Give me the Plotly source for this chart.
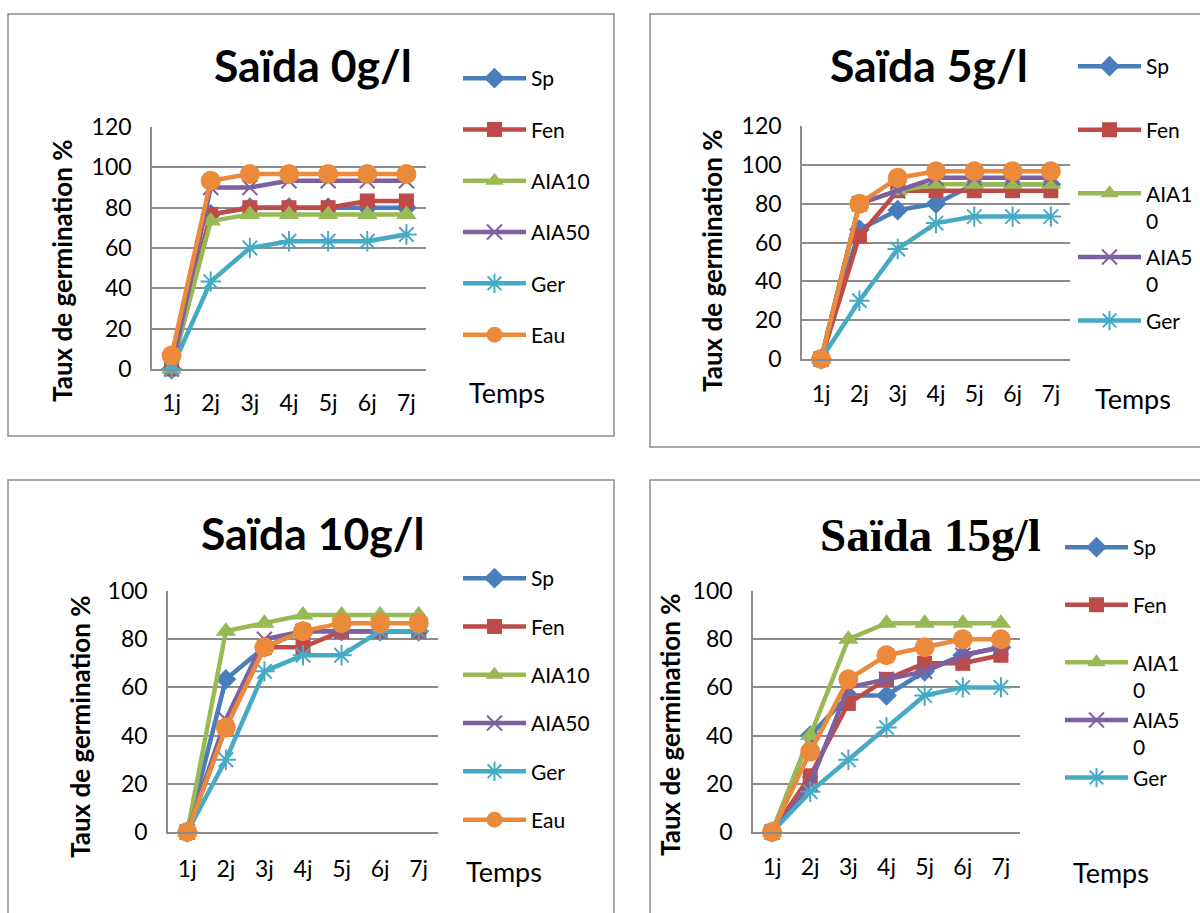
import plotly.graph_objects as go

W, H = 1200, 913

days = ["1j", "2j", "3j", "4j", "5j", "6j", "7j"]
series_names = ["Sp", "Fen", "AIA10", "AIA50", "Ger", "Eau"]

# Saïda 0 g/l
s0_sp = [0, 76.67, 80, 80, 80, 80, 80]
s0_fen = [0, 76.67, 80, 80, 80, 83.33, 83.33]
s0_aia10 = [0, 73.33, 76.67, 76.67, 76.67, 76.67, 76.67]
s0_aia50 = [0, 90, 90, 93.33, 93.33, 93.33, 93.33]
s0_ger = [0, 43.33, 60, 63.33, 63.33, 63.33, 66.67]
s0_eau = [6.67, 93.33, 96.67, 96.67, 96.67, 96.67, 96.67]

# Saïda 5 g/l
s5_sp = [0, 66.67, 76.67, 80, 90, 90, 90]
s5_fen = [0, 63.33, 86.67, 86.67, 86.67, 86.67, 86.67]
s5_aia10 = [0, 80, 86.67, 90, 90, 90, 90]
s5_aia50 = [0, 80, 86.67, 93.33, 93.33, 93.33, 93.33]
s5_ger = [0, 30, 56.67, 70, 73.33, 73.33, 73.33]
s5_eau = [0, 80, 93.33, 96.67, 96.67, 96.67, 96.67]

# Saïda 10 g/l
s10_sp = [0, 63.33, 76.67, 83.33, 83.33, 83.33, 83.33]
s10_fen = [0, 43.33, 76.67, 76.67, 83.33, 83.33, 83.33]
s10_aia10 = [0, 83.33, 86.67, 90, 90, 90, 90]
s10_aia50 = [0, 46.67, 80, 83.33, 83.33, 83.33, 83.33]
s10_ger = [0, 30, 66.67, 73.33, 73.33, 83.33, 83.33]
s10_eau = [0, 43.33, 76.67, 83.33, 86.67, 86.67, 86.67]

# Saïda 15 g/l
s15_sp = [0, 40, 56.67, 56.67, 66.67, 73.33, 76.67]
s15_fen = [0, 23.33, 53.33, 63.33, 70, 70, 73.33]
s15_aia10 = [0, 40, 80, 86.67, 86.67, 86.67, 86.67]
s15_aia50 = [0, 20, 60, 63.33, 66.67, 73.33, 76.67]
s15_ger = [0, 16.67, 30, 43.33, 56.67, 60, 60]
s15_eau = [0, 33.33, 63.33, 73.33, 76.67, 80, 80]

panel_titles = ["Saïda 0g/l", "Saïda 5g/l", "Saïda 10g/l", "Saïda 15g/l"]
y_ticks_a = [0, 20, 40, 60, 80, 100, 120]
y_ticks_b = [0, 20, 40, 60, 80, 100]
legend_full = ["Sp", "Fen", "AIA10", "AIA50", "Ger", "Eau"]
legend_wrapped = ["Sp<br>\u00a0", "Fen<br>\u00a0", "AIA1<br>0", "AIA5<br>0", "Ger<br>\u00a0", "Eau"]

colors = ["#4A7EBB", "#BE4B48", "#98B954", "#7D60A0", "#46AAC5", "#EC8A3C"]
symbols = ["diamond", "square", "triangle-up", "x-thin-open", "asterisk-open", "circle"]
msizes = [16, 15, 18, 15, 17, 20]

panels = [
    dict(data=[s0_sp, s0_fen, s0_aia10, s0_aia50, s0_ger, s0_eau], yt=y_ticks_a, ymax=120,
         px=(152, 426), py=(127, 369), labels=legend_full, show=[1, 1, 1, 1, 1, 1], xs=13),
    dict(data=[s5_sp, s5_fen, s5_aia10, s5_aia50, s5_ger, s5_eau], yt=y_ticks_a, ymax=120,
         px=(802, 1070), py=(126, 359), labels=legend_wrapped, show=[1, 1, 1, 1, 1, 0], xs=14),
    dict(data=[s10_sp, s10_fen, s10_aia10, s10_aia50, s10_ger, s10_eau], yt=y_ticks_b, ymax=100,
         px=(168, 438), py=(591, 832), labels=legend_full, show=[1, 1, 1, 1, 1, 1], xs=16),
    dict(data=[s15_sp, s15_fen, s15_aia10, s15_aia50, s15_ger, s15_eau], yt=y_ticks_b, ymax=100,
         px=(753, 1020), py=(591, 832), labels=legend_wrapped, show=[1, 1, 1, 1, 1, 0], xs=14),
]

FONT = "Lato"
fig = go.Figure()

for p_i, p in enumerate(panels):
    sfx = "" if p_i == 0 else str(p_i + 1)
    for s_i, vals in enumerate(p["data"]):
        sym = symbols[s_i]
        open_sym = sym.endswith("open")
        fig.add_trace(go.Scatter(
            x=days, y=vals, name=p["labels"][s_i],
            mode="lines+markers",
            line=dict(color=colors[s_i], width=4.5),
            marker=dict(symbol=sym, size=msizes[s_i], color=colors[s_i],
                        line=dict(color=colors[s_i], width=2 if open_sym else 0)),
            xaxis="x" + sfx, yaxis="y" + sfx,
            legend="legend" + sfx,
            legendgroup="p%d_%d" % (p_i, s_i),
            showlegend=bool(p["show"][s_i]),
            cliponaxis=False,
        ))
    x0, x1 = p["px"]
    y0, y1 = p["py"]
    fig.update_layout(**{
        "xaxis" + sfx: dict(domain=[x0 / W, x1 / W], anchor="y" + sfx, type="category",
                            range=[-0.5, 6.5], showgrid=False, zeroline=False,
                            showline=True, linecolor="#8C8C8C", linewidth=1.5, ticks="",
                            tickfont=dict(family=FONT, size=23, color="black"),
                            ticklabelstandoff=p["xs"], automargin=False),
        "yaxis" + sfx: dict(domain=[1 - y1 / H, 1 - y0 / H], anchor="x" + sfx,
                            range=[0, p["ymax"]], tickvals=p["yt"], showgrid=True,
                            gridcolor="#8C8C8C", gridwidth=1.5, zeroline=False,
                            showline=True, linecolor="#8C8C8C", linewidth=1.5, ticks="",
                            tickfont=dict(family=FONT, size=23, color="black"),
                            ticklabelstandoff=14, automargin=False),
    })

leg_cfg = [
    dict(x=458, y=58, gap=21),
    dict(x=1073, y=46, gap=6),
    dict(x=458, y=558, gap=18),
    dict(x=1060, y=527, gap=0),
]
for p_i, lc in enumerate(leg_cfg):
    sfx = "" if p_i == 0 else str(p_i + 1)
    fig.update_layout(**{
        "legend" + sfx: dict(x=lc["x"] / W, y=1 - lc["y"] / H, xanchor="left", yanchor="top",
                             bgcolor="rgba(0,0,0,0)", traceorder="grouped",
                             tracegroupgap=lc["gap"], itemwidth=63, valign="top",
                             font=dict(family=FONT, size=21, color="black"),
                             itemclick=False, itemdoubleclick=False),
    })

annotations = []
title_pos = [(313, 65, FONT, 44.5), (929, 65, FONT, 44.5), (313, 532, FONT, 44.5),
             (930, 535, "Liberation Serif", 47)]
for t, (cx, cy, fam, fs) in zip(panel_titles, title_pos):
    annotations.append(dict(text="<b>%s</b>" % t, x=cx / W, y=1 - cy / H, xref="paper", yref="paper",
                            showarrow=False, xanchor="center", yanchor="middle",
                            font=dict(family=fam, size=fs, color="black")))
ytitle_pos = [(62, 271), (712, 261), (80, 727), (670, 725)]
for cx, cy in ytitle_pos:
    annotations.append(dict(text="<b>Taux de germination %</b>", x=cx / W, y=1 - cy / H,
                            xref="paper", yref="paper", showarrow=False, textangle=-90,
                            xanchor="center", yanchor="middle",
                            font=dict(family=FONT, size=26, color="black")))
temps_pos = [(507, 393), (1133, 398), (504, 871), (1111, 872)]
for cx, cy in temps_pos:
    annotations.append(dict(text="Temps", x=cx / W, y=1 - cy / H, xref="paper", yref="paper",
                            showarrow=False, xanchor="center", yanchor="middle",
                            font=dict(family=FONT, size=27, color="black")))

boxes = [(8, 14, 614, 436), (650, 14, 1210, 447), (8, 480, 614, 925), (650, 480, 1210, 925)]
shapes = []
for bx0, by0, bx1, by1 in boxes:
    shapes.append(dict(type="rect", xref="paper", yref="paper",
                       x0=bx0 / W, x1=bx1 / W, y0=1 - by1 / H, y1=1 - by0 / H,
                       line=dict(color="#8C8C8C", width=1.5), fillcolor="rgba(0,0,0,0)",
                       layer="below"))

fig.update_layout(width=W, height=H, margin=dict(l=0, r=0, t=0, b=0, autoexpand=False),
                  paper_bgcolor="white", plot_bgcolor="white",
                  annotations=annotations, shapes=shapes)

fig.write_html("out.html")
